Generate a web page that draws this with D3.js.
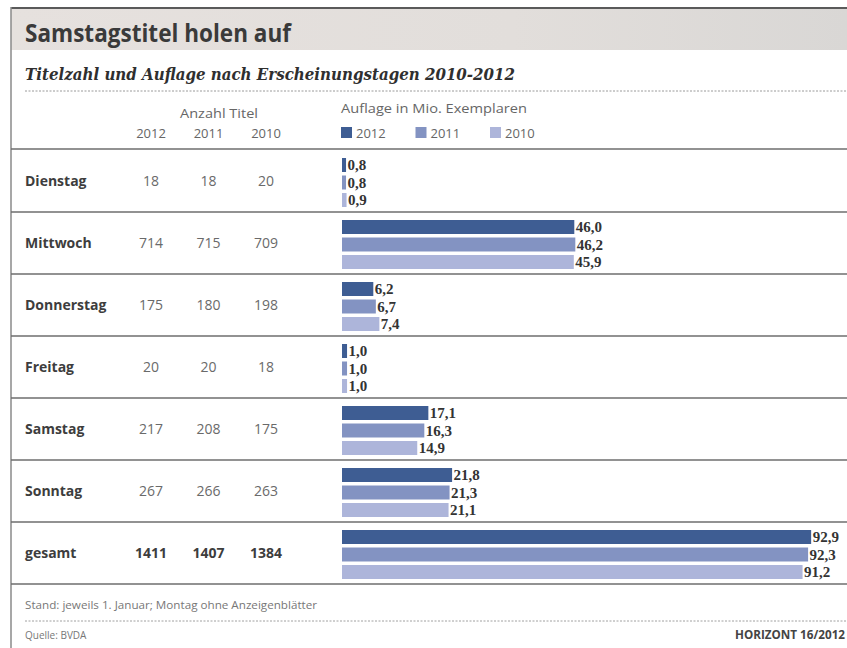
<!DOCTYPE html>
<html>
<head>
<meta charset="utf-8">
<script src="https://cdn.jsdelivr.net/npm/d3@7"></script>
<style>
  html, body { margin: 0; padding: 0; background: #fff; }
  svg { display: block; }
</style>
</head>
<body>
<svg id="chart" width="847" height="648"></svg>
<script>
// Weekdays (plus total) and publication years
const days = ["Dienstag", "Mittwoch", "Donnerstag", "Freitag", "Samstag", "Sonntag", "gesamt"];
const years = ["2012", "2011", "2010"];

// Number of titles per weekday
const titles2012 = [18, 714, 175, 20, 217, 267, 1411];
const titles2011 = [18, 715, 180, 20, 208, 266, 1407];
const titles2010 = [20, 709, 198, 18, 175, 263, 1384];

// Circulation in million copies per weekday
const circ2012 = [0.8, 46.0, 6.2, 1.0, 17.1, 21.8, 92.9];
const circ2011 = [0.8, 46.2, 6.7, 1.0, 16.3, 21.3, 92.3];
const circ2010 = [0.9, 45.9, 7.4, 1.0, 14.9, 21.1, 91.2];

const titleText = "Samstagstitel holen auf";
const subtitleText = "Titelzahl und Auflage nach Erscheinungstagen 2010-2012";
const countHeader = "Anzahl Titel";
const circHeader = "Auflage in Mio. Exemplaren";
const noteText = "Stand: jeweils 1. Januar; Montag ohne Anzeigenblätter";
const sourceText = "Quelle: BVDA";
const creditText = "HORIZONT 16/2012";

const titlesByYear = { "2012": titles2012, "2011": titles2011, "2010": titles2010 };
const circByYear = { "2012": circ2012, "2011": circ2011, "2010": circ2010 };

const colors = d3.scaleOrdinal().domain(years).range(["#3e5d93", "#8393c2", "#adb5da"]);
const fmt = v => d3.format(".1f")(v).replace(".", ",");

const svg = d3.select("#chart");
const W = 847, H = 648;

// ---------- frame and title band ----------
const defs = svg.append("defs");
const grad = defs.append("linearGradient").attr("id", "band").attr("x1", 0).attr("x2", 1).attr("y1", 0).attr("y2", 0);
grad.append("stop").attr("offset", "0%").attr("stop-color", "#e6e1de");
grad.append("stop").attr("offset", "60%").attr("stop-color", "#e2dedb");
grad.append("stop").attr("offset", "100%").attr("stop-color", "#d9d7d5");

svg.append("rect").attr("x", 11).attr("y", 8).attr("width", W - 11).attr("height", 42).attr("fill", "url(#band)");
svg.append("line").attr("x1", 11).attr("x2", W).attr("y1", 8).attr("y2", 8).attr("stroke", "#5a5a5a").attr("stroke-width", 2);
svg.append("line").attr("x1", 11).attr("x2", 11).attr("y1", 7).attr("y2", H).attr("stroke", "#8a8a8a").attr("stroke-width", 1.5);

svg.append("text").attr("x", 25).attr("y", 42)
  .attr("font-family", "'Open Sans', sans-serif").attr("font-weight", 700).attr("font-size", 25)
  .attr("fill", "#3a3a3a").attr("textLength", 266).attr("lengthAdjust", "spacingAndGlyphs")
  .text(titleText);

svg.append("text").attr("x", 25).attr("y", 80)
  .attr("font-family", "'DejaVu Serif', serif").attr("font-style", "italic").attr("font-weight", 700).attr("font-size", 17)
  .attr("fill", "#2f2f2f").attr("textLength", 490).attr("lengthAdjust", "spacingAndGlyphs")
  .text(subtitleText);

svg.append("line").attr("x1", 25).attr("x2", W).attr("y1", 91).attr("y2", 91)
  .attr("stroke", "#9a9a9a").attr("stroke-width", 1).attr("stroke-dasharray", "2,1.5");

// ---------- scales ----------
const rowY = d3.scaleBand().domain(days).range([150, 584]);
const colX = d3.scalePoint().domain(years).range([151, 266]);
const barY = d3.scaleBand().domain(years).range([8, 57]).paddingInner(0.2);
const x = d3.scaleLinear().domain([0, 100]).range([342, 847]);

// ---------- column headers ----------
const sansGray = sel => sel.attr("font-family", "'Open Sans', sans-serif").attr("fill", "#666");

svg.append("text").attr("x", 219).attr("y", 118).attr("text-anchor", "middle")
  .attr("font-size", 13).call(sansGray).attr("textLength", 78).attr("lengthAdjust", "spacingAndGlyphs")
  .text(countHeader);

svg.append("g").selectAll("text").data(years).join("text")
  .attr("x", d => colX(d)).attr("y", 138).attr("text-anchor", "middle")
  .attr("font-size", 13).call(sansGray)
  .text(d => d);

svg.append("text").attr("x", 341).attr("y", 113)
  .attr("font-size", 13).call(sansGray).attr("textLength", 186).attr("lengthAdjust", "spacingAndGlyphs")
  .text(circHeader);

const legendX = d3.scalePoint().domain(years).range([341, 490]);
const legend = svg.append("g").selectAll("g").data(years).join("g")
  .attr("transform", d => `translate(${legendX(d)},0)`);
legend.append("rect").attr("x", 0).attr("y", 127).attr("width", 11).attr("height", 11).attr("fill", d => colors(d));
legend.append("text").attr("x", 15).attr("y", 138).attr("font-size", 13).call(sansGray).text(d => d);

// header bottom rule
svg.append("line").attr("x1", 11).attr("x2", W).attr("y1", 149).attr("y2", 149)
  .attr("stroke", "#6e6e6e").attr("stroke-width", 1.6);

// ---------- rows ----------
const rows = svg.append("g").selectAll("g").data(days).join("g")
  .attr("transform", d => `translate(0,${rowY(d)})`);

rows.append("line").attr("x1", 11).attr("x2", W)
  .attr("y1", rowY.bandwidth()).attr("y2", rowY.bandwidth())
  .attr("stroke", "#6e6e6e").attr("stroke-width", 1.6);

rows.append("text").attr("x", 25).attr("y", rowY.bandwidth() / 2 + 5)
  .attr("font-family", "'Open Sans', sans-serif").attr("font-weight", 700).attr("font-size", 14)
  .attr("fill", "#3d3d3d")
  .text(d => d);

rows.each(function (day, i) {
  const g = d3.select(this);
  const isTotal = day === "gesamt";
  years.forEach(yr => {
    g.append("text")
      .attr("x", colX(yr)).attr("y", rowY.bandwidth() / 2 + 5).attr("text-anchor", "middle")
      .attr("font-family", "'Open Sans', sans-serif")
      .attr("font-weight", isTotal ? 700 : 400)
      .attr("font-size", 14)
      .attr("fill", isTotal ? "#3d3d3d" : "#6a6a6a")
      .text(titlesByYear[yr][i]);

    const v = circByYear[yr][i];
    g.append("rect")
      .attr("x", x(0)).attr("y", barY(yr))
      .attr("width", x(v) - x(0)).attr("height", barY.bandwidth())
      .attr("fill", colors(yr));

    g.append("text")
      .attr("x", x(v) + 1.5).attr("y", barY(yr) + barY.bandwidth() / 2 + 5)
      .attr("font-family", "'Liberation Serif', serif").attr("font-weight", 700)
      .attr("font-size", 15).attr("fill", "#333")
      .text(fmt(v));
  });
});

// ---------- footer ----------
svg.append("text").attr("x", 25).attr("y", 609)
  .attr("font-family", "'Open Sans', sans-serif").attr("font-size", 10).attr("fill", "#777")
  .attr("textLength", 292).attr("lengthAdjust", "spacingAndGlyphs")
  .text(noteText);

svg.append("line").attr("x1", 25).attr("x2", W).attr("y1", 621).attr("y2", 621)
  .attr("stroke", "#a0a0a0").attr("stroke-width", 1).attr("stroke-dasharray", "2,1.5");

svg.append("text").attr("x", 25).attr("y", 639)
  .attr("font-family", "'Open Sans', sans-serif").attr("font-size", 10).attr("fill", "#777")
  .text(sourceText);

svg.append("text").attr("x", 845).attr("y", 639).attr("text-anchor", "end")
  .attr("font-family", "'Open Sans', sans-serif").attr("font-weight", 700).attr("font-size", 11.5).attr("fill", "#444")
  .attr("textLength", 110).attr("lengthAdjust", "spacingAndGlyphs")
  .text(creditText);
</script>
</body>
</html>
